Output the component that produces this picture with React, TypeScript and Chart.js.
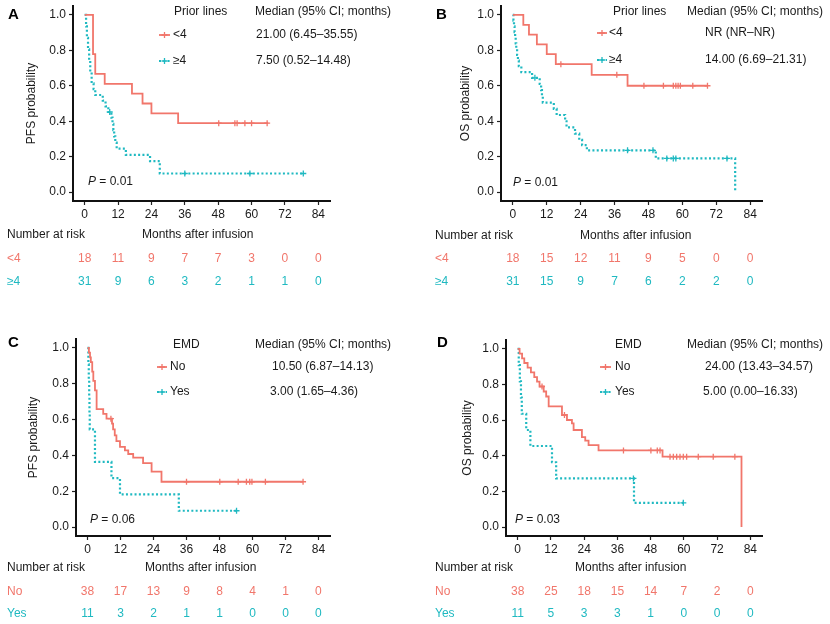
import React, { useEffect, useRef } from "react";
import { Chart, registerables } from "chart.js";

Chart.register(...registerables);

const FONT = '"Liberation Sans", Arial, Helvetica, sans-serif';
const TXT = "#1a1a1a";
const RED = "#F1766B";
const TEAL = "#1FB9C1";

const MONTH_TICKS = [0, 12, 24, 36, 48, 60, 72, 84];
const PROB_TICKS = [0, 0.2, 0.4, 0.6, 0.8, 1.0];

// ---- Panel A: PFS by prior lines ----
const A_LT4_TIME = [0, 3, 3.8, 7.2, 17, 20.8, 24, 33.6, 66];
const A_LT4_SURV = [1, 0.778, 0.667, 0.611, 0.556, 0.5, 0.444, 0.389, 0.389];
const A_LT4_CENSOR = [48.2, 54, 54.8, 57.6, 60, 65.6];
const A_GE4_TIME = [0, 0.5, 0.8, 1.2, 1.6, 2, 2.5, 3.2, 3.8, 6.5, 7.5, 8.5, 9.6, 10, 10.3, 10.6, 11, 11.5, 14.8, 23.5, 27, 78.6];
const A_GE4_SURV = [1, 0.935, 0.871, 0.806, 0.742, 0.677, 0.613, 0.581, 0.548, 0.516, 0.484, 0.452, 0.42, 0.385, 0.35, 0.315, 0.28, 0.245, 0.21, 0.175, 0.105, 0.105];
const A_GE4_CENSOR = [9, 36, 59.4, 78.6];
const A_RISK_LT4 = [18, 11, 9, 7, 7, 3, 0, 0];
const A_RISK_GE4 = [31, 9, 6, 3, 2, 1, 1, 0];

// ---- Panel B: OS by prior lines ----
const B_LT4_TIME = [0, 3.7, 5.7, 8.5, 12, 15.2, 27.9, 40.6, 68.9];
const B_LT4_SURV = [1, 0.944, 0.889, 0.833, 0.778, 0.722, 0.662, 0.6, 0.6];
const B_LT4_CENSOR = [17, 36.8, 46.4, 53.3, 56.8, 57.7, 58.5, 59.3, 63.7, 68.9];
const B_GE4_TIME = [0, 0.2, 0.4, 0.6, 0.8, 1.0, 1.2, 1.5, 1.8, 2.1, 3, 6.8, 9.5, 10, 10.3, 10.6, 14.5, 15.5, 18.5, 19, 22, 23.5, 24.5, 26.2, 50.6, 78.7];
const B_GE4_SURV = [1, 0.968, 0.935, 0.903, 0.871, 0.839, 0.806, 0.774, 0.742, 0.71, 0.677, 0.645, 0.61, 0.575, 0.54, 0.505, 0.47, 0.435, 0.4, 0.365, 0.33, 0.295, 0.265, 0.236, 0.19, 0];
const B_GE4_CENSOR = [7.8, 40.6, 49.6, 54.5, 56.8, 57.7, 75.8];
const B_RISK_LT4 = [18, 15, 12, 11, 9, 5, 0, 0];
const B_RISK_GE4 = [31, 15, 9, 7, 6, 2, 2, 0];

// ---- Panel C: PFS by EMD ----
const C_NO_TIME = [0, 0.5, 0.9, 1.2, 1.7, 2.1, 2.7, 3.3, 5.7, 6.9, 8.9, 9.3, 9.9, 10.5, 11.8, 13.6, 14.8, 16.6, 20.2, 23.3, 26.9, 78.4];
const C_NO_SURV = [1, 0.974, 0.947, 0.921, 0.868, 0.816, 0.763, 0.658, 0.632, 0.605, 0.577, 0.545, 0.512, 0.48, 0.448, 0.428, 0.408, 0.388, 0.357, 0.31, 0.253, 0.253];
const C_NO_CENSOR = [8.5, 36, 48.1, 54.8, 57.8, 59, 59.8, 64.7, 78.4];
const C_YES_TIME = [0, 0.3, 0.45, 0.6, 0.7, 0.8, 2.7, 8.7, 11.8, 33.2, 54.2];
const C_YES_SURV = [1, 0.909, 0.818, 0.727, 0.636, 0.545, 0.364, 0.273, 0.182, 0.091, 0.091];
const C_YES_CENSOR = [54.2];
const C_RISK_NO = [38, 17, 13, 9, 8, 4, 1, 0];
const C_RISK_YES = [11, 3, 2, 1, 1, 0, 0, 0];

// ---- Panel D: OS by EMD ----
const D_NO_TIME = [0, 0.7, 1.6, 2.4, 3.6, 4.8, 6, 7, 7.9, 9.4, 10.3, 11.2, 16, 17.8, 19.6, 20.2, 23.2, 24.4, 25.6, 29.2, 52.3, 80.8];
const D_NO_SURV = [1, 0.974, 0.947, 0.921, 0.895, 0.868, 0.842, 0.816, 0.789, 0.761, 0.733, 0.678, 0.629, 0.601, 0.582, 0.545, 0.505, 0.485, 0.46, 0.43, 0.395, 0];
const D_NO_CENSOR = [8.8, 16.9, 38.2, 48.1, 50.4, 51.4, 55, 56.2, 57.4, 58.6, 59.8, 61, 65.2, 70.6, 78.4];
const D_YES_TIME = [0, 0.4, 0.8, 1.2, 1.5, 3.1, 4.6, 12.4, 13.9, 42, 59.8];
const D_YES_SURV = [1, 0.909, 0.818, 0.727, 0.636, 0.545, 0.455, 0.364, 0.273, 0.136, 0.136];
const D_YES_CENSOR = [41.8, 59.8];
const D_RISK_NO = [38, 25, 18, 15, 14, 7, 2, 0];
const D_RISK_YES = [11, 5, 3, 3, 1, 0, 0, 0];

type Curve = { time: number[]; surv: number[]; censor: number[] };
type PanelDef = {
  letter: string;
  yTitle: string;
  legendTitle: string;
  groups: string[];
  medians: string[];
  p: string;
  risk: number[][];
  curves: Curve[];
  box: { left: number; top: number; w: number; h: number };
  area: { l: number; r: number; t: number; b: number };
  titlePad: number;
  pos: {
    letter: [number, number];
    legendTitle: [number, number];
    marker: [number, number];
    groupX: number;
    rowsY: number[];
    medHeader: [number, number];
    medX: number[];
    p: [number, number];
    riskHeader: [number, number];
    months: [number, number];
    riskY: number[];
    riskLabelX: number;
  };
};

const PANELS: PanelDef[] = [
  {
    letter: "A",
    yTitle: "PFS probability",
    legendTitle: "Prior lines",
    groups: ["<4", "≥4"],
    medians: ["21.00 (6.45–35.55)", "7.50 (0.52–14.48)"],
    p: "0.01",
    risk: [A_RISK_LT4, A_RISK_GE4],
    curves: [
      { time: A_LT4_TIME, surv: A_LT4_SURV, censor: A_LT4_CENSOR },
      { time: A_GE4_TIME, surv: A_GE4_SURV, censor: A_GE4_CENSOR },
    ],
    box: { left: 0, top: 0, w: 415, h: 300 },
    area: { l: 73, r: 330, t: 6, b: 201 },
    titlePad: 24,
    pos: {
      letter: [8, 15],
      legendTitle: [174, 12],
      marker: [159, 170],
      groupX: 173,
      rowsY: [35, 61],
      medHeader: [255, 12],
      medX: [256, 256],
      p: [88, 182],
      riskHeader: [7, 235],
      months: [142, 235],
      riskY: [259, 282],
      riskLabelX: 7,
    },
  },
  {
    letter: "B",
    yTitle: "OS probability",
    legendTitle: "Prior lines",
    groups: ["<4", "≥4"],
    medians: ["NR (NR–NR)", "14.00 (6.69–21.31)"],
    p: "0.01",
    risk: [B_RISK_LT4, B_RISK_GE4],
    curves: [
      { time: B_LT4_TIME, surv: B_LT4_SURV, censor: B_LT4_CENSOR },
      { time: B_GE4_TIME, surv: B_GE4_SURV, censor: B_GE4_CENSOR },
    ],
    box: { left: 415, top: 0, w: 415, h: 300 },
    area: { l: 501, r: 762, t: 6, b: 201 },
    titlePad: 43,
    pos: {
      letter: [436, 15],
      legendTitle: [613, 12],
      marker: [597, 607],
      groupX: 609,
      rowsY: [33, 60],
      medHeader: [687, 12],
      medX: [705, 705],
      p: [513, 183],
      riskHeader: [435, 236],
      months: [580, 236],
      riskY: [259, 282],
      riskLabelX: 435,
    },
  },
  {
    letter: "C",
    yTitle: "PFS probability",
    legendTitle: "EMD",
    groups: ["No", "Yes"],
    medians: ["10.50 (6.87–14.13)", "3.00 (1.65–4.36)"],
    p: "0.06",
    risk: [C_RISK_NO, C_RISK_YES],
    curves: [
      { time: C_NO_TIME, surv: C_NO_SURV, censor: C_NO_CENSOR },
      { time: C_YES_TIME, surv: C_YES_SURV, censor: C_YES_CENSOR },
    ],
    box: { left: 0, top: 300, w: 415, h: 324 },
    area: { l: 76, r: 330, t: 339, b: 536 },
    titlePad: 26,
    pos: {
      letter: [8, 343],
      legendTitle: [173, 345],
      marker: [157, 167],
      groupX: 170,
      rowsY: [367, 392],
      medHeader: [255, 345],
      medX: [272, 270],
      p: [90, 520],
      riskHeader: [7, 568],
      months: [145, 568],
      riskY: [592, 614],
      riskLabelX: 7,
    },
  },
  {
    letter: "D",
    yTitle: "OS probability",
    legendTitle: "EMD",
    groups: ["No", "Yes"],
    medians: ["24.00 (13.43–34.57)", "5.00 (0.00–16.33)"],
    p: "0.03",
    risk: [D_RISK_NO, D_RISK_YES],
    curves: [
      { time: D_NO_TIME, surv: D_NO_SURV, censor: D_NO_CENSOR },
      { time: D_YES_TIME, surv: D_YES_SURV, censor: D_YES_CENSOR },
    ],
    box: { left: 415, top: 300, w: 415, h: 324 },
    area: { l: 506, r: 762, t: 340, b: 536 },
    titlePad: 45,
    pos: {
      letter: [437, 343],
      legendTitle: [615, 345],
      marker: [600, 611],
      groupX: 615,
      rowsY: [367, 392],
      medHeader: [687, 345],
      medX: [705, 703],
      p: [515, 520],
      riskHeader: [435, 568],
      months: [575, 568],
      riskY: [592, 614],
      riskLabelX: 435,
    },
  },
];

const COLORS = [RED, TEAL];
const LINE_W = [1.8, 2.2];
const DASH = [[], [2, 2.3]];
const X_AXIS_H = 20;

function survAt(c: Curve, t: number) {
  let s = c.surv[0];
  for (let i = 0; i < c.time.length; i++) {
    if (c.time[i] <= t) s = c.surv[i];
  }
  return s;
}

function drawCross(ctx: CanvasRenderingContext2D, x: number, y: number, color: string) {
  ctx.save();
  ctx.strokeStyle = color;
  ctx.lineWidth = 1.3;
  ctx.setLineDash([]);
  ctx.beginPath();
  ctx.moveTo(x - 3, y);
  ctx.lineTo(x + 3, y);
  ctx.moveTo(x, y - 3);
  ctx.lineTo(x, y + 3);
  ctx.stroke();
  ctx.restore();
}

function makeConfig(def: PanelDef): any {
  const ox = def.box.left;
  const oy = def.box.top;
  const X = (x: number) => x - ox;
  const Y = (y: number) => y - oy;
  const P = def.pos;

  const datasets: any[] = [];
  def.curves.forEach((c, i) => {
    datasets.push({
      data: c.time.map((t, k) => ({ x: t, y: c.surv[k] })),
      borderColor: COLORS[i],
      borderWidth: LINE_W[i],
      borderDash: DASH[i],
      stepped: true,
      pointRadius: 0,
      fill: false,
      tension: 0,
    });
  });
  def.curves.forEach((c, i) => {
    datasets.push({
      data: c.censor.map((t) => ({ x: t, y: survAt(c, t) })),
      showLine: false,
      pointStyle: "cross",
      pointRadius: 3,
      pointBorderColor: COLORS[i],
      pointBackgroundColor: COLORS[i],
      pointBorderWidth: 1.3,
      borderColor: COLORS[i],
    });
  });

  const textPlugin = {
    id: "kmText" + def.letter,
    afterDraw(chart: any) {
      const ctx: CanvasRenderingContext2D = chart.ctx;
      const xs = chart.scales.x;
      ctx.save();
      ctx.textBaseline = "middle";
      ctx.textAlign = "left";
      ctx.fillStyle = "#000";
      ctx.font = `bold 15px ${FONT}`;
      ctx.fillText(def.letter, X(P.letter[0]), Y(P.letter[1]));
      ctx.font = `12px ${FONT}`;
      ctx.fillStyle = TXT;
      ctx.fillText(def.legendTitle, X(P.legendTitle[0]), Y(P.legendTitle[1]));
      ctx.fillText("Median (95% CI; months)", X(P.medHeader[0]), Y(P.medHeader[1]));
      def.groups.forEach((g, i) => {
        const y = Y(P.rowsY[i]);
        ctx.save();
        ctx.strokeStyle = COLORS[i];
        ctx.lineWidth = LINE_W[i];
        ctx.setLineDash(DASH[i]);
        ctx.beginPath();
        ctx.moveTo(X(P.marker[0]), y);
        ctx.lineTo(X(P.marker[1]), y);
        ctx.stroke();
        ctx.restore();
        drawCross(ctx, X((P.marker[0] + P.marker[1]) / 2), y, COLORS[i]);
        ctx.fillStyle = TXT;
        ctx.fillText(g, X(P.groupX), y);
        ctx.fillText(def.medians[i], X(P.medX[i]), y);
      });
      ctx.font = `italic 12px ${FONT}`;
      ctx.fillText("P", X(P.p[0]), Y(P.p[1]));
      const pw = ctx.measureText("P").width;
      ctx.font = `12px ${FONT}`;
      ctx.fillText(" = " + def.p, X(P.p[0]) + pw, Y(P.p[1]));
      ctx.fillText("Number at risk", X(P.riskHeader[0]), Y(P.riskHeader[1]));
      ctx.fillText("Months after infusion", X(P.months[0]), Y(P.months[1]));
      def.groups.forEach((g, i) => {
        const y = Y(P.riskY[i]);
        ctx.fillStyle = COLORS[i];
        ctx.textAlign = "left";
        ctx.fillText(g, X(P.riskLabelX), y);
        ctx.textAlign = "center";
        MONTH_TICKS.forEach((m, k) => {
          ctx.fillText(String(def.risk[i][k]), xs.getPixelForValue(m), y);
        });
      });
      ctx.restore();
    },
  };

  const zeroPad = (s: any) => {
    s.paddingLeft = 0;
    s.paddingRight = 0;
    s.paddingTop = 0;
    s.paddingBottom = 0;
  };

  return {
    type: "line",
    data: { datasets },
    plugins: [textPlugin],
    options: {
      animation: false,
      responsive: false,
      devicePixelRatio: 1,
      events: [],
      layout: {
        padding: {
          left: 0,
          top: def.area.t - oy,
          right: ox + def.box.w - def.area.r,
          bottom: oy + def.box.h - def.area.b - X_AXIS_H,
        },
      },
      plugins: { legend: { display: false }, tooltip: { enabled: false } },
      scales: {
        x: {
          type: "linear",
          min: -4.2,
          max: 88.2,
          afterBuildTicks: (s: any) => {
            s.ticks = MONTH_TICKS.map((v) => ({ value: v }));
          },
          afterFit: (s: any) => {
            s.height = X_AXIS_H;
            zeroPad(s);
          },
          ticks: {
            autoSkip: false,
            maxRotation: 0,
            padding: 2,
            color: TXT,
            font: { family: FONT, size: 12 },
            callback: (v: any) => String(v),
          },
          grid: { drawOnChartArea: false, drawTicks: true, tickLength: 4, tickColor: "#222", tickWidth: 1.2 },
          border: { display: true, color: "#111", width: 2 },
        },
        y: {
          type: "linear",
          min: -0.05,
          max: 1.05,
          afterBuildTicks: (s: any) => {
            s.ticks = PROB_TICKS.map((v) => ({ value: v }));
          },
          afterFit: (s: any) => {
            s.width = def.area.l - ox;
            zeroPad(s);
          },
          ticks: {
            padding: 3,
            color: TXT,
            font: { family: FONT, size: 12 },
            callback: (v: any) => Number(v).toFixed(1),
          },
          title: {
            display: true,
            text: def.yTitle,
            color: TXT,
            font: { family: FONT, size: 12 },
            padding: { top: def.titlePad, bottom: 0 },
          },
          grid: { drawOnChartArea: false, drawTicks: true, tickLength: 4, tickColor: "#222", tickWidth: 1.2 },
          border: { display: true, color: "#111", width: 2 },
        },
      },
    },
  };
}

function Panel({ def }: { def: PanelDef }) {
  const ref = useRef<HTMLCanvasElement | null>(null);
  useEffect(() => {
    const canvas = ref.current;
    if (!canvas) return;
    const chart = new Chart(canvas, makeConfig(def));
    return () => chart.destroy();
  }, [def]);
  return (
    <canvas
      ref={ref}
      width={def.box.w}
      height={def.box.h}
      style={{
        position: "absolute",
        left: def.box.left,
        top: def.box.top,
        width: def.box.w,
        height: def.box.h,
        display: "block",
      }}
    />
  );
}

export default function App() {
  return (
    <div style={{ position: "absolute", left: 0, top: 0, width: 830, height: 624, background: "#fff" }}>
      {PANELS.map((p) => (
        <Panel key={p.letter} def={p} />
      ))}
    </div>
  );
}
